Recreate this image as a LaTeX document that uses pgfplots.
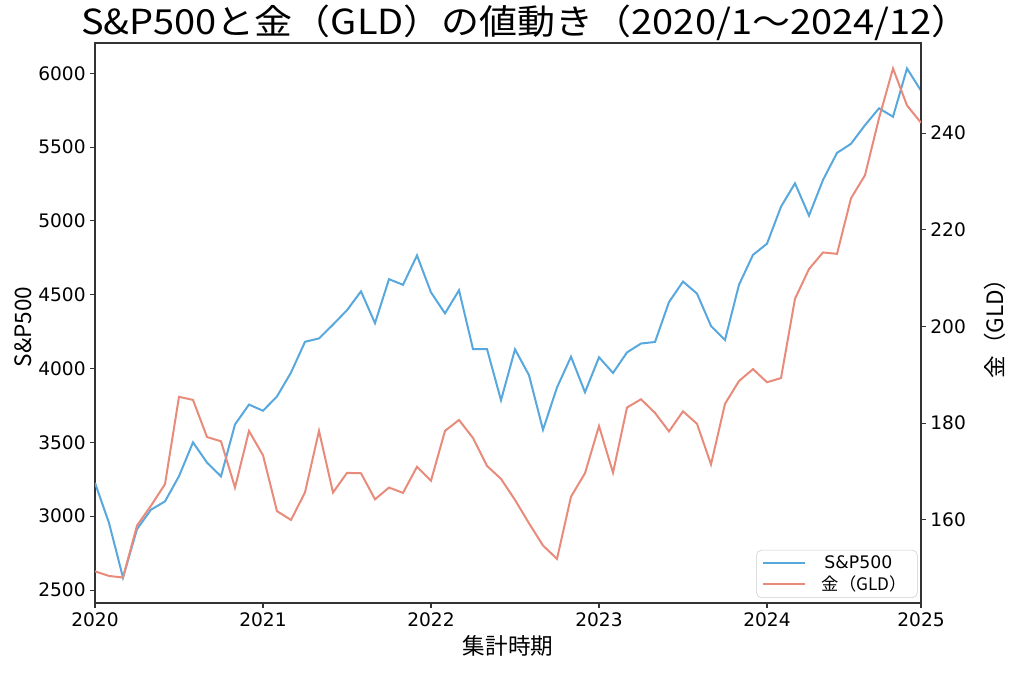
\documentclass[border=0pt]{standalone}
\usepackage{fontspec}
\setmainfont{DejaVu Sans}
\newfontfamily\jp{Noto Sans CJK JP}
\newfontfamily\jpw[FakeStretch=1.1]{Noto Sans CJK JP}
\usepackage{pgfplots}
\usepackage{pgfplotstable}
\pgfplotsset{compat=1.18}
\usetikzlibrary{calc}
\definecolor{spblue}{HTML}{58A8DE}
\definecolor{gldred}{HTML}{E88B7B}
\definecolor{axgray}{HTML}{333333}

\pgfplotstableread{
m sp gld
0 3225.52 149.33
1 2954.22 148.38
2 2584.59 148.05
3 2912.43 158.80
4 3044.31 162.91
5 3100.29 167.37
6 3271.12 185.43
7 3500.31 184.79
8 3363.00 177.12
9 3269.96 176.23
10 3621.63 166.67
11 3756.07 178.36
12 3714.24 173.34
13 3811.15 161.78
14 3972.89 159.96
15 4181.17 165.66
16 4204.11 178.38
17 4297.50 165.63
18 4395.26 169.70
19 4522.68 169.62
20 4307.54 164.23
21 4605.38 166.66
22 4567.00 165.56
23 4766.18 170.96
24 4515.55 168.09
25 4373.94 178.39
26 4530.41 180.65
27 4131.93 176.91
28 4132.15 171.14
29 3785.38 168.46
30 4130.29 164.10
31 3955.00 159.27
32 3585.62 154.67
33 3871.98 151.91
34 4080.11 164.77
35 3839.50 169.64
36 4076.60 179.39
37 3970.15 169.74
38 4109.31 183.22
39 4169.48 184.93
40 4179.83 182.11
41 4450.38 178.27
42 4588.96 182.44
43 4507.66 179.85
44 4288.05 171.45
45 4193.80 183.99
46 4567.80 188.70
47 4769.83 191.17
48 4845.65 188.45
49 5096.27 189.31
50 5254.35 205.72
51 5035.69 211.87
52 5277.51 215.30
53 5460.48 215.01
54 5522.30 226.51
55 5648.40 231.29
56 5762.48 243.06
57 5705.45 253.36
58 6032.38 245.71
59 5881.63 242.13
}\data

\begin{document}
\begin{tikzpicture}
\pgfplotsset{
  every axis/.append style={
    scale only axis, width=619.5bp, height=420bp,
    xmin=0, xmax=59,
    axis line style={axgray, line width=1bp},
    tick align=outside, major tick length=3.5bp,
    every tick/.style={axgray, line width=0.8bp},
    tick label style={font=\fontsize{14}{16}\selectfont},
    /pgf/number format/assume math mode=true,
    /pgf/number format/1000 sep={},
    label style={font=\jp\fontsize{17}{20}\selectfont},
  }
}
\begin{axis}[name=ax1,
  ymin=2412.2, ymax=6204.8,
  tick pos=left,
  xtick={0,12,24,36,48,59},
  xticklabels={2020,2021,2022,2023,2024,2025},
  ytick={2500,3000,3500,4000,4500,5000,5500,6000},
  xlabel={集計時期},
  ylabel={S\&P500},
  ylabel style={yshift=-2bp, xshift=-3bp},
]
\addplot[spblue, line width=1.5bp] table[x=m, y=sp] {\data};
\end{axis}
\begin{axis}[
  ymin=142.78, ymax=258.63,
  axis x line=none,
  axis y line*=right,
  ytick={160,180,200,220,240},
  ylabel={金（GLD）},
  ylabel style={yshift=-7bp},
  legend cell align=left,
  legend image code/.code={\draw[#1] (0bp,0bp) -- (31.5bp,0bp);},
  legend style={at={(0.996,0.009)}, anchor=south east, draw=black!20,
    rounded corners=4bp, fill=white, font=\fontsize{13}{15}\selectfont,
    inner xsep=4bp, inner ysep=2bp, row sep=0bp,
    nodes={inner xsep=4bp, inner ysep=2bp}},
]
\addlegendimage{spblue, line width=1.5bp}
\addlegendentry{\hspace{10bp}S\&P500}
\addplot[gldred, line width=1.5bp] table[x=m, y=gld] {\data};
\addlegendentry{\hspace{8bp}{\jp 金（GLD）}}
\end{axis}
\node[anchor=base, font=\jpw\fontsize{26}{30}\selectfont] at ($(ax1.north)+(13bp,6bp)$) {S\&P500と金（GLD）の値動き（2020/1～2024/12）};
\pgfresetboundingbox
\path ($(ax1.south west)+(-71.25bp,-55.5bp)$) rectangle ($(ax1.north east)+(77.25bp,32.25bp)$);
\end{tikzpicture}
\end{document}
